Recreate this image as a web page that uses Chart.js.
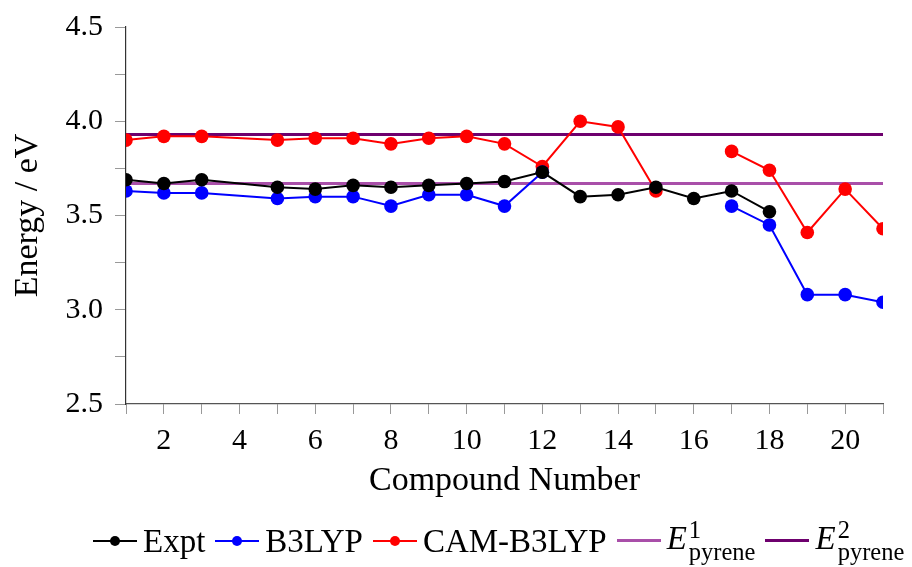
<!DOCTYPE html>
<html>
<head>
<meta charset="utf-8">
<script src="https://cdn.jsdelivr.net/npm/chart.js@4.4.1/dist/chart.umd.min.js"></script>
<style>
    html, body { margin: 0; padding: 0; background: #fff; }
    #wrap { position: relative; width: 912px; height: 567px; }
    #legend {
        position: absolute; left: 93px; top: 519px; height: 44px;
        display: flex; align-items: center; white-space: nowrap;
        font-family: 'Liberation Serif', serif; font-size: 33px; color: #000;
    }
    .lg__item { display: flex; align-items: center; margin-right: 10px; }
    .lg__icon { position: relative; width: 44px; height: 14px; margin-right: 6px; }
    .lg__line { position: absolute; left: 0; right: 0; top: 6px; height: 2px; }
    .lg__line--thick { top: 5px; height: 3px; }
    .lg__dot { position: absolute; left: 17px; top: 2px; width: 10px; height: 10px; border-radius: 50%; }
    .lg__ss { display: inline-flex; flex-direction: column; font-size: 24.5px; line-height: 22px; vertical-align: middle; margin-left: 2px; }
</style>
</head>
<body>
<div id="wrap">
    <canvas id="chart" width="912" height="567"></canvas>
    <div id="legend"></div>
</div>
<script>
/* ===== DATA ===== */
const compounds = [1, 2, 3, 5, 6, 7, 8, 9, 10, 11, 12, 13, 14, 15, 16, 17, 18, 19, 20, 21];
const expt      = [3.69, 3.67, 3.69, 3.65, 3.64, 3.66, 3.65, 3.66, 3.67, 3.68, 3.73, 3.60, 3.61, 3.65, 3.59, 3.63, 3.52, null, null, null];
const b3lyp     = [3.63, 3.62, 3.62, 3.59, 3.60, 3.60, 3.55, 3.61, 3.61, 3.55, 3.73, null, null, null, null, 3.55, 3.45, 3.08, 3.08, 3.04];
const camB3lyp  = [3.90, 3.92, 3.92, 3.90, 3.91, 3.91, 3.88, 3.91, 3.92, 3.88, 3.76, 4.00, 3.97, 3.63, null, 3.84, 3.74, 3.41, 3.64, 3.43];
const ePyrene1  = 3.67;
const ePyrene2  = 3.93;
const xRange    = [1, 21];
const yRange    = [2.5, 4.5];

const FONT = 'Liberation Serif';

function toPoints(ys) {
    return compounds.map((x, i) => ({ x: x, y: ys[i] }));
}

function hLine(v) {
    return xRange.map(x => ({ x: x, y: v }));
}

function series(label, data, color) {
    return {
        label: label,
        data: toPoints(data),
        borderColor: color,
        backgroundColor: color,
        borderWidth: 2,
        pointRadius: 6.8,
        pointHoverRadius: 6.8,
        pointBorderWidth: 0,
        spanGaps: false,
        tension: 0,
        order: 1,
        legendHtml: label,
        marker: true
    };
}

function refLine(num, v, color) {
    return {
        label: 'E' + num + ' pyrene',
        data: hLine(v),
        borderColor: color,
        backgroundColor: color,
        borderWidth: 3,
        pointRadius: 0,
        pointHoverRadius: 0,
        order: 2,
        legendHtml: '<i>E</i><span class="lg__ss"><span>' + num + '</span><span>pyrene</span></span>',
        marker: false
    };
}

const chart = new Chart(document.getElementById('chart'), {
    type: 'line',
    data: {
        datasets: [
            series('Expt', expt, '#000000'),
            series('B3LYP', b3lyp, '#0000ff'),
            series('CAM-B3LYP', camB3lyp, '#ff0000'),
            refLine(1, ePyrene1, '#a94fa9'),
            refLine(2, ePyrene2, '#6e006e')
        ]
    },
    options: {
        responsive: false,
        animation: false,
        layout: { padding: { top: 25, right: 29, bottom: 62, left: 0 } },
        plugins: {
            legend: { display: false },
            tooltip: { enabled: false }
        },
        scales: {
            x: {
                type: 'linear',
                min: xRange[0],
                max: xRange[1],
                afterFit: s => { s.height = 101; },
                border: { color: '#555', width: 1.2 },
                grid: { drawOnChartArea: false, drawTicks: true, tickLength: 10, tickColor: '#999' },
                ticks: {
                    stepSize: 1,
                    autoSkip: false,
                    maxRotation: 0,
                    padding: 9,
                    color: '#000',
                    font: { family: FONT, size: 30 },
                    callback: v => (v % 2 === 0 ? String(v) : '')
                },
                title: {
                    display: true,
                    text: 'Compound Number',
                    color: '#000',
                    font: { family: FONT, size: 34 },
                    padding: { top: 0, bottom: 4 }
                }
            },
            y: {
                min: yRange[0],
                max: yRange[1],
                afterFit: s => { s.width = 126; },
                border: { color: '#333', width: 1.2 },
                grid: { drawOnChartArea: false, drawTicks: true, tickLength: 11, tickColor: '#999' },
                ticks: {
                    stepSize: 0.25,
                    padding: 12,
                    color: '#000',
                    font: { family: FONT, size: 30, lineHeight: 1 },
                    callback: v => (Math.abs(v * 2 - Math.round(v * 2)) < 1e-9 ? v.toFixed(1) : '')
                },
                title: {
                    display: true,
                    text: 'Energy / eV',
                    color: '#000',
                    font: { family: FONT, size: 34 },
                    padding: { top: 8, bottom: 0 }
                }
            }
        }
    }
});

/* ===== HTML LEGEND ===== */
function renderLegend(chart) {
    const box = document.getElementById('legend');
    box.innerHTML = chart.data.datasets.map(ds => `
        <span class="lg__item">
            <span class="lg__icon">
                <span class="lg__line${ds.marker ? '' : ' lg__line--thick'}" style="background:${ds.borderColor}"></span>
                ${ds.marker ? `<span class="lg__dot" style="background:${ds.borderColor}"></span>` : ''}
            </span>
            <span class="lg__txt">${ds.legendHtml}</span>
        </span>
    `).join('');
}

renderLegend(chart);
</script>
</body>
</html>
